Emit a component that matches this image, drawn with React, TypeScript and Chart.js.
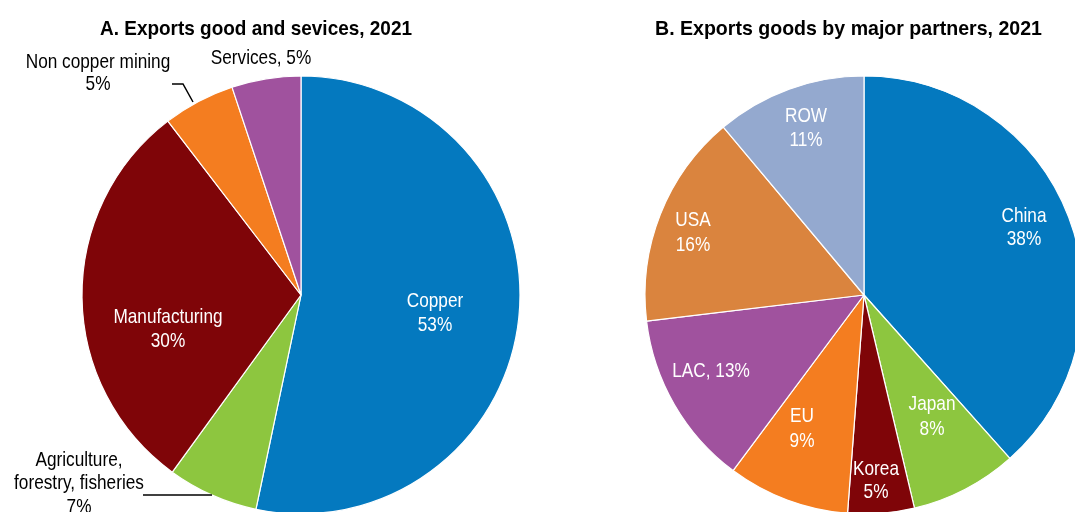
import React, { useEffect, useRef } from "react";
import { Chart, registerables } from "chart.js";

Chart.register(...registerables);

// ---------- Data ----------
const sectorNames = ["Copper", "Agriculture, forestry, fisheries", "Manufacturing", "Non copper mining", "Services"];
const sectorValues = [53.3, 6.7, 29.6, 5.3, 5.1];
const sectorColors = ["#0479BF", "#8DC63F", "#7F0508", "#F47D20", "#A0529E"];

const partnerNames = ["China", "Japan", "Korea", "EU", "LAC", "USA", "ROW"];
const partnerValues = [38.4, 7.9, 4.9, 9.0, 12.9, 15.8, 11.1];
const partnerColors = ["#0479BF", "#8DC63F", "#7F0508", "#F47D20", "#A0529E", "#DA843E", "#94A9CF"];

const titleA = "A. Exports good and sevices, 2021";
const titleB = "B. Exports goods by major partners, 2021";

// ---------- Label layout (relative to pie centre) ----------
type Lbl = { idx: number; lines: string[]; dx: number; dy: number[]; color: string };
const pct = (v: number) => Math.round(v) + "%";

const labelsA: Lbl[] = [
  { idx: 0, lines: ["Copper", pct(sectorValues[0])], dx: 134, dy: [12, 36], color: "#ffffff" },
  { idx: 2, lines: ["Manufacturing", pct(sectorValues[2])], dx: -133, dy: [28, 52], color: "#ffffff" },
  { idx: 3, lines: ["Non copper mining", pct(sectorValues[3])], dx: -203, dy: [-227, -205], color: "#000000" },
  { idx: 4, lines: ["Services, " + pct(sectorValues[4])], dx: -40, dy: [-231], color: "#000000" },
  { idx: 1, lines: ["Agriculture,", "forestry, fisheries", pct(sectorValues[1])], dx: -222, dy: [171, 194, 218], color: "#000000" },
];
const leadersA: number[][][] = [
  [[-129, -211], [-118, -211], [-108, -193]],
  [[-158, 200], [-89, 200]],
];

const labelsB: Lbl[] = [
  { idx: 0, lines: ["China", pct(partnerValues[0])], dx: 160, dy: [-73, -50], color: "#ffffff" },
  { idx: 1, lines: ["Japan", pct(partnerValues[1])], dx: 68, dy: [115, 140], color: "#ffffff" },
  { idx: 2, lines: ["Korea", pct(partnerValues[2])], dx: 12, dy: [180, 203], color: "#ffffff" },
  { idx: 3, lines: ["EU", pct(partnerValues[3])], dx: -62, dy: [127, 152], color: "#ffffff" },
  { idx: 4, lines: ["LAC, " + pct(partnerValues[4])], dx: -153, dy: [82], color: "#ffffff" },
  { idx: 5, lines: ["USA", pct(partnerValues[5])], dx: -171, dy: [-69, -44], color: "#ffffff" },
  { idx: 6, lines: ["ROW", pct(partnerValues[6])], dx: -58, dy: [-173, -149], color: "#ffffff" },
];

// ---------- Font helpers ----------
let narrowAvailable: boolean | null = null;
function hasNarrow(ctx: CanvasRenderingContext2D) {
  if (narrowAvailable !== null) return narrowAvailable;
  ctx.save();
  ctx.font = '21px "Liberation Sans Narrow", "DejaVu Serif"';
  const w1 = ctx.measureText("Copper mining").width;
  ctx.font = '21px "Liberation Sans"';
  const w2 = ctx.measureText("Copper mining").width;
  ctx.restore();
  narrowAvailable = w1 < w2 * 0.9;
  return narrowAvailable;
}

function drawText(
  ctx: CanvasRenderingContext2D,
  text: string,
  x: number,
  y: number,
  size: number,
  color: string,
  bold = false,
  targetWidth?: number
) {
  ctx.save();
  const narrow = hasNarrow(ctx);
  const fam = narrow ? '"Liberation Sans Narrow", "Liberation Sans", Arial, sans-serif' : '"Liberation Sans", Arial, sans-serif';
  ctx.font = `${bold ? "bold " : ""}${size}px ${fam}`;
  ctx.fillStyle = color;
  ctx.textAlign = "center";
  ctx.textBaseline = "alphabetic";
  let sx = narrow ? 1 : 0.82;
  if (targetWidth) {
    const w = ctx.measureText(text).width;
    sx = targetWidth / w;
  }
  ctx.translate(x, y);
  ctx.scale(sx, 1);
  ctx.fillText(text, 0, 0);
  ctx.restore();
}

function makePlugin(title: string, titleX: number, titleW: number, labels: Lbl[], leaders: number[][][]) {
  return {
    id: "customText",
    afterDraw(chart: any) {
      const ctx: CanvasRenderingContext2D = chart.ctx;
      const meta = chart.getDatasetMeta(0);
      const arc = meta.data[0];
      const cx = arc.x;
      const cy = arc.y;
      drawText(ctx, title, titleX, 35, 21, "#000000", true, titleW);
      labels.forEach((l) => {
        l.lines.forEach((line, i) => {
          drawText(ctx, line, cx + l.dx, cy + l.dy[i], 21, l.color);
        });
      });
      ctx.save();
      ctx.strokeStyle = "#000000";
      ctx.lineWidth = 1.5;
      leaders.forEach((pts) => {
        ctx.beginPath();
        pts.forEach((p, i) => {
          if (i === 0) ctx.moveTo(cx + p[0], cy + p[1]);
          else ctx.lineTo(cx + p[0], cy + p[1]);
        });
        ctx.stroke();
      });
      ctx.restore();
    },
  };
}

function PieCanvas(props: {
  left: number;
  names: string[];
  values: number[];
  colors: string[];
  plugin: any;
}) {
  const ref = useRef<HTMLCanvasElement>(null);
  useEffect(() => {
    if (!ref.current) return;
    const chart = new Chart(ref.current, {
      type: "pie",
      data: {
        labels: props.names,
        datasets: [
          {
            data: props.values,
            backgroundColor: props.colors,
            borderColor: "#ffffff",
            borderWidth: 1.2,
          },
        ],
      },
      options: {
        animation: false,
        responsive: false,
        maintainAspectRatio: false,
        radius: 219,
        layout: { padding: { left: 82, right: 82, top: 76, bottom: 86 } },
        plugins: {
          legend: { display: false },
          tooltip: { enabled: false },
          title: { display: false },
        },
      } as any,
      plugins: [props.plugin],
    });
    return () => chart.destroy();
  }, []);
  return (
    <canvas
      ref={ref}
      width={602}
      height={600}
      style={{ position: "absolute", left: props.left, top: 0, width: 602, height: 600 }}
    />
  );
}

export default function App() {
  const pluginA = makePlugin(titleA, 256, 312, labelsA, leadersA);
  const pluginB = makePlugin(titleB, 848.5 - 563, 387, labelsB, []);
  return (
    <div
      style={{
        position: "fixed",
        left: 0,
        top: 0,
        width: 1075,
        height: 512,
        overflow: "hidden",
        background: "#ffffff",
      }}
    >
      <PieCanvas left={0} names={sectorNames} values={sectorValues} colors={sectorColors} plugin={pluginA} />
      <PieCanvas left={563} names={partnerNames} values={partnerValues} colors={partnerColors} plugin={pluginB} />
    </div>
  );
}
